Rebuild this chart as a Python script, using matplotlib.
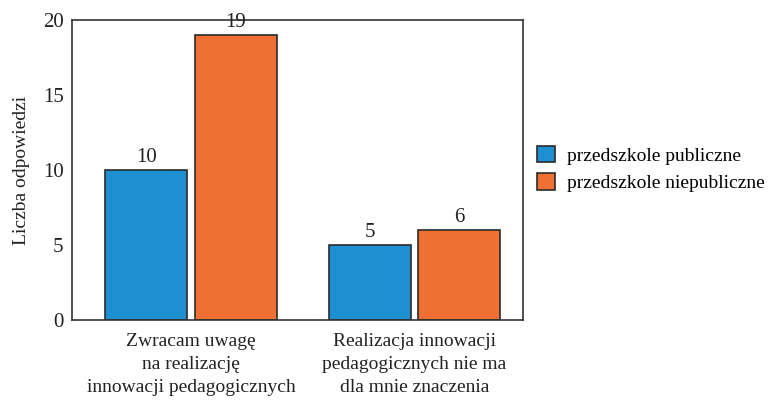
import matplotlib
matplotlib.use("Agg")
import matplotlib.pyplot as plt
import numpy as np

categories = ["Zwracam uwagę\nna realizację\ninnowacji pedagogicznych",
              "Realizacja innowacji\npedagogicznych nie ma\ndla mnie znaczenia"]
series_names = ["przedszkole publiczne", "przedszkole niepubliczne"]
public_vals = [10, 5]
private_vals = [19, 6]
yticks = [0, 5, 10, 15, 20]

plt.rcParams["font.family"] = ["Liberation Serif", "DejaVu Serif"]
plt.rcParams["font.size"] = 14

colors = ["#1E8FD0", "#F07033"]
edge = "#2b2b2b"

fig = plt.figure(figsize=(7.74, 4.01), dpi=100)
ax = fig.add_axes([72 / 774, 1 - 320 / 401, 451 / 774, 300 / 401])

x = np.arange(len(categories))
w = 0.367
off = 0.2
for vals, c, name, sgn in [(public_vals, colors[0], series_names[0], -1),
                           (private_vals, colors[1], series_names[1], 1)]:
    bars = ax.bar(x + sgn * off, vals, width=w, color=c, edgecolor=edge,
                  linewidth=1.2, label=name)
    for b, v in zip(bars, vals):
        ax.text(b.get_x() + b.get_width() / 2, v + 0.2, str(v),
                ha="center", va="bottom", fontsize=15, color="#222222")

ax.set_xlim(-0.532, 1.485)
ax.set_ylim(0, 20)
ax.set_yticks(yticks)
ax.set_xticks(x)
ax.set_xticklabels(categories, linespacing=1.48)
ax.tick_params(axis="x", length=0, labelsize=14, colors="#222222", pad=9)
ax.tick_params(axis="y", length=0, labelsize=15, colors="#222222", pad=6)
ax.set_ylabel("Liczba odpowiedzi", fontsize=14, color="#222222", labelpad=9)
for s in ax.spines.values():
    s.set_color("#333333")
    s.set_linewidth(1.2)

ax.legend(loc="center left", bbox_to_anchor=(0.993, 0.503), frameon=False,
          fontsize=14, handlelength=0.9, handleheight=0.9, handletextpad=0.6,
          labelspacing=0.45)

fig.savefig("out.png", dpi=100)
